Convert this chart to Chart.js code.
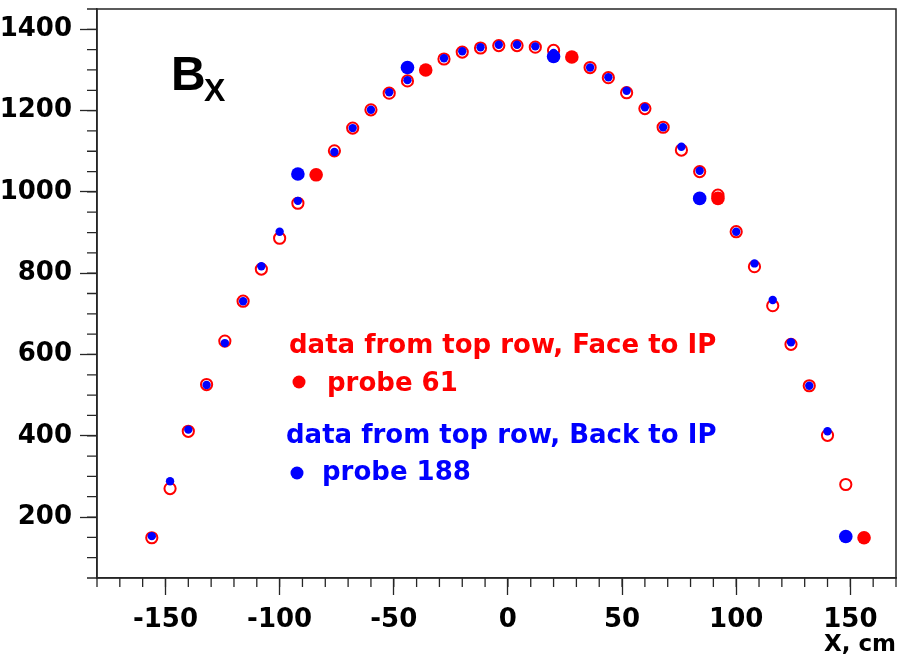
<!DOCTYPE html>
<html>
<head>
<meta charset="utf-8">
<title>Bx along X</title>
<script src="https://cdn.jsdelivr.net/npm/chart.js@4.4.1/dist/chart.umd.min.js"></script>
<style>
  html, body { margin: 0; padding: 0; background: #fff; }
  #wrap { width: 913px; height: 659px; }
</style>
</head>
<body>
<div id="wrap"><canvas id="bxChart"></canvas></div>
<script>
// top row, face to IP (open red circles)
const faceX = [-156, -148, -140, -132, -124, -116, -108, -100, -92, -76, -68, -60, -52, -44,
  -28, -20, -12, -4, 4, 12, 20, 36, 44, 52, 60, 68, 76, 84, 92, 100, 108, 116, 124, 132, 140, 148];
const faceY = [149, 270, 411, 526, 633, 731, 810, 886, 972, 1101, 1157, 1202, 1243, 1273,
  1327, 1344, 1354, 1360, 1360, 1356, 1348, 1306, 1281, 1244, 1205, 1159, 1103, 1050, 992, 902, 816, 720, 625, 523, 401, 280];

// top row, back to IP (small blue dots)
const backX = [-156, -148, -140, -132, -124, -116, -108, -100, -92, -76, -68, -60, -52, -44,
  -28, -20, -12, -4, 4, 12, 20, 36, 44, 52, 60, 68, 76, 84, 100, 108, 116, 124, 132, 140];
const backY = [153, 288, 415, 525, 628, 731, 817, 902, 978, 1098, 1157, 1202, 1245, 1275,
  1329, 1346, 1356, 1362, 1362, 1358, 1342, 1306, 1282, 1249, 1208, 1159, 1111, 1052, 902, 824, 734, 630, 523, 411];

const probe61X = [-84, -36, 28, 92, 156];
const probe61Y = [1042, 1300, 1332, 984, 149];
const probe188X = [-92, -44, 20, 84, 148];
const probe188Y = [1044, 1306, 1333, 984, 152];

const xTicks = [-150, -100, -50, 0, 50, 100, 150];
const yTicks = [200, 400, 600, 800, 1000, 1200, 1400];

const RED = "#ff0000";
const BLUE = "#0000ff";
const AXIS = "#262626";
const FONT = "'DejaVu Sans', sans-serif";

const toPoints = (xs, ys) => xs.map((x, i) => ({ x, y: ys[i] }));

// frame, minor ticks, the B_X label and the text legend
const decorations = {
  id: "decorations",
  afterDraw(chart) {
    const { ctx, chartArea: area, scales } = chart;
    ctx.save();
    ctx.strokeStyle = AXIS;
    ctx.lineWidth = 1.5;
    ctx.strokeRect(area.left, area.top, area.right - area.left, area.bottom - area.top);

    ctx.lineWidth = 1.3;
    ctx.beginPath();
    for (let v = scales.x.min; v <= scales.x.max; v += 10) {
      const px = scales.x.getPixelForValue(v);
      ctx.moveTo(px, area.bottom);
      ctx.lineTo(px, area.bottom + 9);
    }
    for (let v = scales.y.min; v <= scales.y.max; v += 50) {
      const py = scales.y.getPixelForValue(v);
      ctx.moveTo(area.left, py);
      ctx.lineTo(area.left - 10, py);
    }
    ctx.stroke();

    ctx.fillStyle = "#000";
    ctx.textBaseline = "alphabetic";
    ctx.font = "bold 48px 'Liberation Sans', sans-serif";
    ctx.fillText("B", 171, 90);
    ctx.font = "bold 32px 'Liberation Sans', sans-serif";
    ctx.fillText("X", 204, 101);

    ctx.font = "bold 26px " + FONT;
    ctx.fillStyle = RED;
    ctx.fillText("data from top row, Face to IP", 289, 353);
    ctx.fillText("probe 61", 327, 391);
    ctx.beginPath();
    ctx.arc(299, 382, 6.5, 0, Math.PI * 2);
    ctx.fill();

    ctx.fillStyle = BLUE;
    ctx.fillText("data from top row, Back to IP", 286, 443);
    ctx.fillText("probe 188", 322, 480);
    ctx.beginPath();
    ctx.arc(297, 473, 6.5, 0, Math.PI * 2);
    ctx.fill();
    ctx.restore();
  },
};

new Chart(document.getElementById("bxChart"), {
  type: "scatter",
  data: {
    datasets: [
      {
        label: "probe 61",
        data: toPoints(probe61X, probe61Y),
        backgroundColor: RED,
        borderWidth: 0,
        pointRadius: 6.8,
        order: 0,
      },
      {
        label: "probe 188",
        data: toPoints(probe188X, probe188Y),
        backgroundColor: BLUE,
        borderWidth: 0,
        pointRadius: 6.8,
        order: 0,
      },
      {
        label: "data from top row, Back to IP",
        data: toPoints(backX, backY),
        backgroundColor: BLUE,
        borderWidth: 0,
        pointRadius: 4.2,
        order: 1,
      },
      {
        label: "data from top row, Face to IP",
        data: toPoints(faceX, faceY),
        backgroundColor: "rgba(0,0,0,0)",
        borderColor: RED,
        borderWidth: 2,
        pointRadius: 5.6,
        order: 2,
      },
    ],
  },
  options: {
    responsive: true,
    maintainAspectRatio: false,
    animation: false,
    layout: { padding: { left: 0, top: 9, right: 17, bottom: 0 } },
    plugins: {
      legend: { display: false },
      tooltip: { enabled: false },
    },
    scales: {
      x: {
        type: "linear",
        min: -180,
        max: 170,
        afterBuildTicks: (scale) => {
          scale.ticks = xTicks.map((value) => ({ value }));
        },
        afterFit: (scale) => {
          scale.height = 81;
          scale.paddingLeft = 0;
          scale.paddingRight = 0;
        },
        grid: {
          drawOnChartArea: false,
          tickLength: 17,
          tickColor: AXIS,
          tickWidth: 1.3,
        },
        border: { color: AXIS, width: 1.5 },
        ticks: {
          color: "#000",
          padding: 10,
          maxRotation: 0,
          font: { family: FONT, size: 26, weight: "bold" },
          callback: (value) => String(value),
        },
        title: {
          display: true,
          text: "X, cm",
          align: "end",
          color: "#000",
          padding: { top: 0, bottom: 0 },
          font: { family: FONT, size: 23, weight: "bold" },
        },
      },
      y: {
        type: "linear",
        min: 50,
        max: 1450,
        afterBuildTicks: (scale) => {
          scale.ticks = yTicks.map((value) => ({ value }));
        },
        afterFit: (scale) => {
          scale.width = 97;
          scale.paddingTop = 0;
          scale.paddingBottom = 0;
        },
        grid: {
          drawOnChartArea: false,
          tickLength: 17,
          tickColor: AXIS,
          tickWidth: 1.3,
        },
        border: { color: AXIS, width: 1.5 },
        ticks: {
          color: "#000",
          padding: 8,
          font: { family: FONT, size: 26, weight: "bold" },
          callback: (value) => String(value),
        },
      },
    },
  },
  plugins: [decorations],
});
</script>
</body>
</html>
